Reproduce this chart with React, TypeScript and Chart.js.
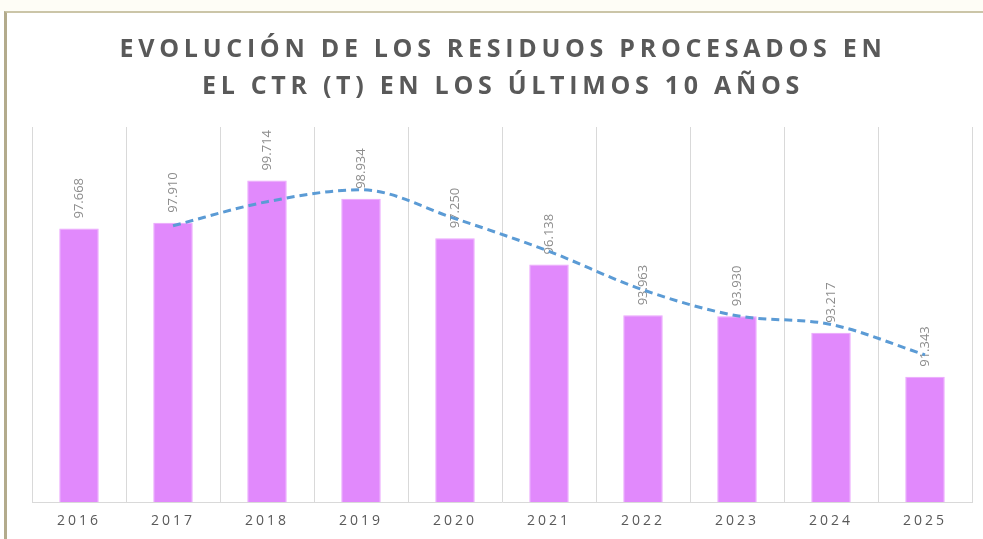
import React, { useEffect, useRef } from "react";
import { Chart, registerables } from "chart.js";

Chart.register(...registerables);

const categories = ["2016", "2017", "2018", "2019", "2020", "2021", "2022", "2023", "2024", "2025"];
const residuos = [97668, 97910, 99714, 98934, 97250, 96138, 93963, 93930, 93217, 91343];
// dashed trend line (2-period moving average)
const tendencia = [null, 97789, 98812, 99324, 98092, 96694, 95051, 93947, 93574, 92280];
const titleLines = ["EVOLUCIÓN DE LOS RESIDUOS PROCESADOS EN", "EL CTR (T) EN LOS ÚLTIMOS 10 AÑOS"];
const yMin = 86000;
const yMax = 102000;

const fmt = (v: number) => Math.floor(v / 1000) + "." + String(v % 1000).padStart(3, "0");

export default function App() {
  const ref = useRef<HTMLCanvasElement | null>(null);

  useEffect(() => {
    document.body.style.margin = "0";
    const canvas = ref.current!;
    const spacingPlugin = {
      id: "spacing",
      beforeDraw(chart: any) {
        (chart.ctx as any).letterSpacing = "3px";
      },
    };
    const labelPlugin = {
      id: "barLabels",
      afterDatasetDraw(chart: any, args: any) {
        if (args.index !== 0) return;
        const ctx = chart.ctx;
        const meta = chart.getDatasetMeta(0);
        ctx.save();
        (ctx as any).letterSpacing = "0px";
        ctx.font = '13px "Open Sans"';
        ctx.fillStyle = "#8c8c8c";
        ctx.textAlign = "left";
        ctx.textBaseline = "middle";
        meta.data.forEach((el: any, i: number) => {
          ctx.save();
          ctx.translate(el.x, el.y - 10);
          ctx.rotate(-Math.PI / 2);
          ctx.fillText(fmt(residuos[i]), 0, 0);
          ctx.restore();
        });
        ctx.restore();
      },
    };
    const titlePlugin = {
      id: "customTitle",
      afterDraw(chart: any) {
        const ctx = chart.ctx;
        ctx.save();
        (ctx as any).letterSpacing = "4.7px";
        ctx.font = 'bold 25px "Open Sans"';
        ctx.fillStyle = "#595959";
        ctx.textAlign = "center";
        ctx.textBaseline = "middle";
        ctx.fillText(titleLines[0], 503, 50);
        ctx.fillText(titleLines[1], 503, 87);
        ctx.restore();
      },
    };

    const chart = new Chart(canvas, {
      type: "bar",
      data: {
        labels: categories,
        datasets: [
          {
            type: "bar",
            label: "Residuos",
            data: residuos,
            backgroundColor: "#e189fc",
            borderColor: "#eba5fd",
            borderWidth: 1,
            barPercentage: 0.42,
            categoryPercentage: 1,
            order: 1,
          },
          {
            type: "line",
            label: "Tendencia",
            data: tendencia as any,
            borderColor: "#5b9bd5",
            borderWidth: 3,
            borderDash: [8, 5],
            pointRadius: 0,
            cubicInterpolationMode: "monotone",
            fill: false,
            order: 0,
          },
        ],
      },
      options: {
        animation: false,
        responsive: false,
        maintainAspectRatio: false,
        layout: { padding: { left: 32, right: 11, top: 127, bottom: 0 } },
        plugins: {
          legend: { display: false },
          title: { display: false },
          tooltip: { enabled: false },
        },
        scales: {
          x: {
            grid: { display: true, offset: true, color: "#d9d9d9", lineWidth: 1, drawTicks: false },
            border: { display: true, color: "#d9d9d9" },
            ticks: { color: "#595959", font: { family: "Open Sans", size: 14 }, padding: 11 },
            afterFit: (s: any) => {
              s.height = 37;
            },
          },
          y: { display: false, min: yMin, max: yMax },
        },
      },
      plugins: [spacingPlugin, labelPlugin, titlePlugin],
    });
    return () => chart.destroy();
  }, []);

  return (
    <div style={{ position: "relative", width: 983, height: 539, background: "#ffffff", overflow: "hidden" }}>
      <div style={{ position: "absolute", left: 0, top: 0, width: 983, height: 11, background: "#fefdf6" }} />
      <div
        style={{
          position: "absolute",
          left: 4,
          top: 11,
          width: 990,
          height: 540,
          borderTop: "2px solid #cbc5a8",
          borderLeft: "3px solid #b3ab8c",
        }}
      />
      <canvas ref={ref} width={983} height={539} style={{ position: "absolute", left: 0, top: 0 }} />
    </div>
  );
}
